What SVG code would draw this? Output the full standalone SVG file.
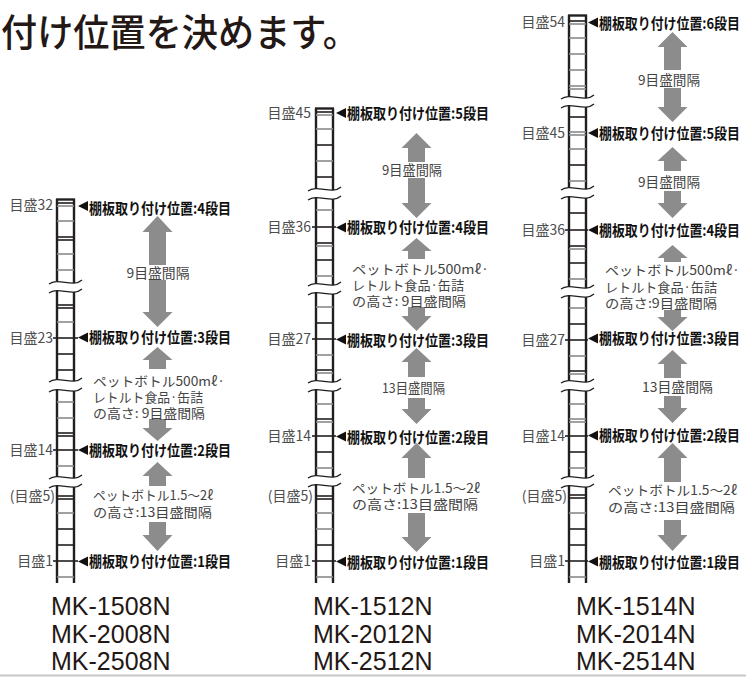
<svg xmlns="http://www.w3.org/2000/svg" width="746" height="677" viewBox="0 0 746 677">
<style>
.rail{stroke:#231f20;stroke-width:2.4;fill:none}
.rd{stroke:#231f20;stroke-width:1.6}
.rg{stroke:#8a8a8a;stroke-width:1.6}
.bf{fill:#fff;stroke:none}
.bw{fill:none;stroke:#231f20;stroke-width:1.3}
.arr{fill:#8c8c8c}
.tri{fill:#111}
.lbl{font-family:'Noto Sans CJK JP','Noto Sans',sans-serif;font-weight:700;font-size:15px;fill:#111}
.sc{font-family:'Noto Sans CJK JP','Noto Sans',sans-serif;font-size:14px;fill:#4d4d4d;text-anchor:end}
.nt{font-family:'Noto Sans CJK JP','Noto Sans',sans-serif;font-size:13px;fill:#444}
.ntc{font-family:'Noto Sans CJK JP','Noto Sans',sans-serif;font-size:13.5px;fill:#444;text-anchor:middle}
.mdl{font-family:'Liberation Sans',Arial,sans-serif;font-size:25px;fill:#231815}
.ttl{font-family:'Noto Sans CJK JP','Noto Sans',sans-serif;font-size:38px;font-weight:500;fill:#231815}
</style>

<g id="title"><text class="ttl" x="1" y="46" textLength="358" lengthAdjust="spacingAndGlyphs">付け位置を決めます。</text></g>

<!-- Ladder 1 -->
<g id="ladder1">
<line class="rail" x1="57" y1="199" x2="57" y2="583"/>
<line class="rail" x1="74" y1="199" x2="74" y2="583"/>
<line class="rail" x1="56" y1="199.5" x2="75" y2="199.5"/>
<line class="rd" x1="57" y1="203" x2="74" y2="203"/><line class="rg" x1="57" y1="206" x2="74" y2="206"/>
<line class="rg" x1="57" y1="221" x2="74" y2="221"/>
<line class="rd" x1="57" y1="237" x2="74" y2="237"/><line class="rd" x1="57" y1="240" x2="74" y2="240"/>
<line class="rg" x1="57" y1="254" x2="74" y2="254"/>
<line class="rg" x1="57" y1="270" x2="74" y2="270"/>
<line class="rd" x1="57" y1="305" x2="74" y2="305"/><line class="rd" x1="57" y1="308" x2="74" y2="308"/>
<line class="rg" x1="57" y1="322" x2="74" y2="322"/>
<line class="rd" x1="53" y1="338" x2="78" y2="338"/>
<line class="rd" x1="57" y1="354" x2="74" y2="354"/>
<line class="rd" x1="57" y1="370" x2="74" y2="370"/>
<line class="rg" x1="57" y1="402" x2="74" y2="402"/>
<line class="rg" x1="57" y1="418" x2="74" y2="418"/>
<line class="rd" x1="57" y1="433" x2="74" y2="433"/><line class="rd" x1="57" y1="436" x2="74" y2="436"/>
<line class="rd" x1="53" y1="450" x2="78" y2="450"/>
<line class="rg" x1="57" y1="466" x2="74" y2="466"/>
<line class="rd" x1="57" y1="496" x2="74" y2="496"/><line class="rd" x1="57" y1="499" x2="74" y2="499"/>
<line class="rg" x1="57" y1="513" x2="74" y2="513"/>
<line class="rd" x1="57" y1="529" x2="74" y2="529"/>
<line class="rd" x1="57" y1="545" x2="74" y2="545"/>
<line class="rd" x1="53" y1="561" x2="78" y2="561"/>
<line class="rg" x1="57" y1="577" x2="74" y2="577"/>
<path class="bf" d="M49,284 C58,277 73,288 82,280 L82,289 C73,297 58,286 49,293 Z"/>
<path class="bw" d="M49,284 C58,277 73,288 82,280 M49,293 C58,286 73,297 82,289"/>
<path class="bf" d="M49,382 C58,375 73,386 82,378 L82,388 C73,396 58,385 49,392 Z"/>
<path class="bw" d="M49,382 C58,375 73,386 82,378 M49,392 C58,385 73,396 82,388"/>
<path class="bf" d="M49,479 C58,472 73,483 82,475 L82,484 C73,492 58,481 49,488 Z"/>
<path class="bw" d="M49,479 C58,472 73,483 82,475 M49,488 C58,481 73,492 82,484"/>
</g>

<!-- Ladder 2 -->
<g id="ladder2">
<line class="rail" x1="316" y1="108" x2="316" y2="583"/>
<line class="rail" x1="333" y1="108" x2="333" y2="583"/>
<line class="rail" x1="315" y1="108.5" x2="334" y2="108.5"/>
<line class="rd" x1="316" y1="112" x2="333" y2="112"/><line class="rg" x1="316" y1="115" x2="333" y2="115"/>
<line class="rg" x1="316" y1="129" x2="333" y2="129"/>
<line class="rd" x1="316" y1="145" x2="333" y2="145"/>
<line class="rg" x1="316" y1="161" x2="333" y2="161"/>
<line class="rd" x1="316" y1="177" x2="333" y2="177"/>
<line class="rg" x1="316" y1="210" x2="333" y2="210"/>
<line class="rd" x1="312" y1="227" x2="336" y2="227"/>
<line class="rd" x1="316" y1="243" x2="333" y2="243"/><line class="rg" x1="316" y1="246" x2="333" y2="246"/>
<line class="rd" x1="316" y1="260" x2="333" y2="260"/>
<line class="rg" x1="316" y1="276" x2="333" y2="276"/>
<line class="rg" x1="316" y1="307" x2="333" y2="307"/>
<line class="rd" x1="316" y1="323" x2="333" y2="323"/>
<line class="rd" x1="312" y1="339" x2="336" y2="339"/>
<line class="rg" x1="316" y1="355" x2="333" y2="355"/>
<line class="rd" x1="316" y1="370" x2="333" y2="370"/><line class="rg" x1="316" y1="373" x2="333" y2="373"/>
<line class="rg" x1="316" y1="404" x2="333" y2="404"/>
<line class="rd" x1="316" y1="419" x2="333" y2="419"/><line class="rg" x1="316" y1="422" x2="333" y2="422"/>
<line class="rd" x1="312" y1="436" x2="336" y2="436"/>
<line class="rd" x1="316" y1="452" x2="333" y2="452"/>
<line class="rg" x1="316" y1="468" x2="333" y2="468"/>
<line class="rd" x1="316" y1="496" x2="333" y2="496"/><line class="rd" x1="316" y1="499" x2="333" y2="499"/>
<line class="rg" x1="316" y1="513" x2="333" y2="513"/>
<line class="rg" x1="316" y1="529" x2="333" y2="529"/>
<line class="rd" x1="316" y1="545" x2="333" y2="545"/>
<line class="rd" x1="312" y1="561" x2="336" y2="561"/>
<line class="rg" x1="316" y1="577" x2="333" y2="577"/>
<path class="bf" d="M308,191 C317,184 332,195 341,187 L341,196 C332,204 317,193 308,200 Z"/>
<path class="bw" d="M308,191 C317,184 332,195 341,187 M308,200 C317,193 332,204 341,196"/>
<path class="bf" d="M308,286 C317,279 332,290 341,282 L341,291 C332,299 317,288 308,295 Z"/>
<path class="bw" d="M308,286 C317,279 332,290 341,282 M308,295 C317,288 332,299 341,291"/>
<path class="bf" d="M308,383 C317,376 332,387 341,379 L341,388 C332,396 317,385 308,392 Z"/>
<path class="bw" d="M308,383 C317,376 332,387 341,379 M308,392 C317,385 332,396 341,388"/>
<path class="bf" d="M308,478 C317,471 332,482 341,474 L341,483 C332,491 317,480 308,487 Z"/>
<path class="bw" d="M308,478 C317,471 332,482 341,474 M308,487 C317,480 332,491 341,483"/>
</g>

<!-- Ladder 3 -->
<g id="ladder3">
<line class="rail" x1="569" y1="15" x2="569" y2="583"/>
<line class="rail" x1="586" y1="15" x2="586" y2="583"/>
<line class="rail" x1="568" y1="15.5" x2="587" y2="15.5"/>
<line class="rd" x1="569" y1="21" x2="586" y2="21"/><line class="rg" x1="569" y1="24" x2="586" y2="24"/>
<line class="rg" x1="569" y1="38" x2="586" y2="38"/>
<line class="rg" x1="569" y1="54" x2="586" y2="54"/>
<line class="rg" x1="569" y1="70" x2="586" y2="70"/>
<line class="rg" x1="569" y1="86" x2="586" y2="86"/><line class="rg" x1="569" y1="89" x2="586" y2="89"/>
<line class="rd" x1="569" y1="117" x2="586" y2="117"/>
<line class="rg" x1="569" y1="132" x2="586" y2="132"/><line class="rg" x1="569" y1="135" x2="586" y2="135"/>
<line class="rg" x1="569" y1="149" x2="586" y2="149"/>
<line class="rd" x1="569" y1="165" x2="586" y2="165"/>
<line class="rg" x1="569" y1="181" x2="586" y2="181"/>
<line class="rd" x1="569" y1="213" x2="586" y2="213"/>
<line class="rd" x1="565" y1="230" x2="588" y2="230"/>
<line class="rd" x1="569" y1="246" x2="586" y2="246"/><line class="rg" x1="569" y1="249" x2="586" y2="249"/>
<line class="rd" x1="569" y1="263" x2="586" y2="263"/>
<line class="rg" x1="569" y1="279" x2="586" y2="279"/>
<line class="rg" x1="569" y1="308" x2="586" y2="308"/>
<line class="rd" x1="569" y1="324" x2="586" y2="324"/>
<line class="rd" x1="565" y1="340" x2="588" y2="340"/>
<line class="rg" x1="569" y1="356" x2="586" y2="356"/>
<line class="rd" x1="569" y1="371" x2="586" y2="371"/><line class="rg" x1="569" y1="374" x2="586" y2="374"/>
<line class="rg" x1="569" y1="404" x2="586" y2="404"/>
<line class="rg" x1="569" y1="419" x2="586" y2="419"/><line class="rg" x1="569" y1="422" x2="586" y2="422"/>
<line class="rd" x1="565" y1="436" x2="588" y2="436"/>
<line class="rd" x1="569" y1="452" x2="586" y2="452"/>
<line class="rg" x1="569" y1="468" x2="586" y2="468"/>
<line class="rd" x1="569" y1="495" x2="586" y2="495"/><line class="rd" x1="569" y1="498" x2="586" y2="498"/>
<line class="rg" x1="569" y1="513" x2="586" y2="513"/>
<line class="rd" x1="569" y1="529" x2="586" y2="529"/>
<line class="rd" x1="569" y1="545" x2="586" y2="545"/>
<line class="rd" x1="565" y1="561" x2="588" y2="561"/>
<line class="rg" x1="569" y1="577" x2="586" y2="577"/>
<path class="bf" d="M561,99 C570,92 585,103 594,95 L594,104 C585,112 570,101 561,108 Z"/>
<path class="bw" d="M561,99 C570,92 585,103 594,95 M561,108 C570,101 585,112 594,104"/>
<path class="bf" d="M561,190 C570,183 585,194 594,186 L594,195 C585,203 570,192 561,199 Z"/>
<path class="bw" d="M561,190 C570,183 585,194 594,186 M561,199 C570,192 585,203 594,195"/>
<path class="bf" d="M561,289 C570,282 585,293 594,285 L594,294 C585,302 570,291 561,298 Z"/>
<path class="bw" d="M561,289 C570,282 585,293 594,285 M561,298 C570,291 585,302 594,294"/>
<path class="bf" d="M561,383 C570,376 585,387 594,379 L594,388 C585,396 570,385 561,392 Z"/>
<path class="bw" d="M561,383 C570,376 585,387 594,379 M561,392 C570,385 585,396 594,388"/>
<path class="bf" d="M561,479 C570,472 585,483 594,475 L594,484 C585,492 570,481 561,488 Z"/>
<path class="bw" d="M561,479 C570,472 585,483 594,475 M561,488 C570,481 585,492 594,484"/>
</g>

<!-- Scale labels -->
<g id="scales1">
<text class="sc" x="53" y="210">目盛32</text>
<text class="sc" x="53" y="343">目盛23</text>
<text class="sc" x="53" y="455">目盛14</text>
<text class="sc" x="55" y="501">(目盛5)</text>
<text class="sc" x="53" y="566">目盛1</text>
</g>
<g id="scales2">
<text class="sc" x="311" y="118">目盛45</text>
<text class="sc" x="311" y="232">目盛36</text>
<text class="sc" x="311" y="344">目盛27</text>
<text class="sc" x="311" y="441">目盛14</text>
<text class="sc" x="313" y="501">(目盛5)</text>
<text class="sc" x="311" y="566">目盛1</text>
</g>
<g id="scales3">
<text class="sc" x="565" y="27">目盛54</text>
<text class="sc" x="565" y="138">目盛45</text>
<text class="sc" x="565" y="235">目盛36</text>
<text class="sc" x="565" y="345">目盛27</text>
<text class="sc" x="565" y="441">目盛14</text>
<text class="sc" x="567" y="501">(目盛5)</text>
<text class="sc" x="565" y="566">目盛1</text>
</g>

<!-- Shelf labels col 1 -->
<g id="c1-s4"><polygon class="tri" points="78,206 88,201 88,211"/><text class="lbl" x="89" y="213.5" textLength="142" lengthAdjust="spacingAndGlyphs">棚板取り付け位置:4段目</text></g>
<g id="c1-s3"><polygon class="tri" points="78,337.5 88,332.5 88,342.5"/><text class="lbl" x="89" y="343" textLength="142" lengthAdjust="spacingAndGlyphs">棚板取り付け位置:3段目</text></g>
<g id="c1-s2"><polygon class="tri" points="78,450 88,445 88,455"/><text class="lbl" x="89" y="455.5" textLength="142" lengthAdjust="spacingAndGlyphs">棚板取り付け位置:2段目</text></g>
<g id="c1-s1"><polygon class="tri" points="78,561.5 88,556.5 88,566.5"/><text class="lbl" x="89" y="567" textLength="142" lengthAdjust="spacingAndGlyphs">棚板取り付け位置:1段目</text></g>

<!-- Shelf labels col 2 -->
<g id="c2-s5"><polygon class="tri" points="336,113 346,108 346,118"/><text class="lbl" x="347" y="118.5" textLength="142" lengthAdjust="spacingAndGlyphs">棚板取り付け位置:5段目</text></g>
<g id="c2-s4"><polygon class="tri" points="336,227.5 346,222.5 346,232.5"/><text class="lbl" x="347" y="233" textLength="142" lengthAdjust="spacingAndGlyphs">棚板取り付け位置:4段目</text></g>
<g id="c2-s3"><polygon class="tri" points="336,339.5 346,334.5 346,344.5"/><text class="lbl" x="347" y="345.5" textLength="142" lengthAdjust="spacingAndGlyphs">棚板取り付け位置:3段目</text></g>
<g id="c2-s2"><polygon class="tri" points="336,436.5 346,431.5 346,441.5"/><text class="lbl" x="347" y="442.5" textLength="142" lengthAdjust="spacingAndGlyphs">棚板取り付け位置:2段目</text></g>
<g id="c2-s1"><polygon class="tri" points="336,561.5 346,556.5 346,566.5"/><text class="lbl" x="347" y="567.5" textLength="142" lengthAdjust="spacingAndGlyphs">棚板取り付け位置:1段目</text></g>

<!-- Shelf labels col 3 (horizontally condensed) -->
<g id="c3-s6"><polygon class="tri" points="588,22.5 598,17.5 598,27.5"/><text class="lbl" transform="translate(599 28.5) scale(0.87 1)" x="0" y="0" textLength="162" lengthAdjust="spacingAndGlyphs">棚板取り付け位置:6段目</text></g>
<g id="c3-s5"><polygon class="tri" points="588,133 598,128 598,138"/><text class="lbl" transform="translate(599 138.5) scale(0.87 1)" x="0" y="0" textLength="162" lengthAdjust="spacingAndGlyphs">棚板取り付け位置:5段目</text></g>
<g id="c3-s4"><polygon class="tri" points="588,230 598,225 598,235"/><text class="lbl" transform="translate(599 235.5) scale(0.87 1)" x="0" y="0" textLength="162" lengthAdjust="spacingAndGlyphs">棚板取り付け位置:4段目</text></g>
<g id="c3-s3"><polygon class="tri" points="588,338.5 598,333.5 598,343.5"/><text class="lbl" transform="translate(599 343.5) scale(0.87 1)" x="0" y="0" textLength="162" lengthAdjust="spacingAndGlyphs">棚板取り付け位置:3段目</text></g>
<g id="c3-s2"><polygon class="tri" points="588,435.5 598,430.5 598,440.5"/><text class="lbl" transform="translate(599 440.5) scale(0.87 1)" x="0" y="0" textLength="162" lengthAdjust="spacingAndGlyphs">棚板取り付け位置:2段目</text></g>
<g id="c3-s1"><polygon class="tri" points="588,561.5 598,556.5 598,566.5"/><text class="lbl" transform="translate(599 567.5) scale(0.87 1)" x="0" y="0" textLength="162" lengthAdjust="spacingAndGlyphs">棚板取り付け位置:1段目</text></g>

<!-- Connectors: gray spacing arrows -->
<g id="connectors">
<path class="arr" d="M157.5,216 L172.5,232 L166,232 L166,265 L149,265 L149,232 L142.5,232 Z"/>
<path class="arr" d="M149,280 L166,280 L166,312 L172.5,312 L157.5,327 L142.5,312 L149,312 Z"/>
<path class="arr" d="M157.5,347 L172.5,360 L166,360 L166,369 L149,369 L149,360 L142.5,360 Z"/>
<path class="arr" d="M149,419 L166,419 L166,428 L172.5,428 L157.5,441 L142.5,428 L149,428 Z"/>
<path class="arr" d="M157.5,462 L172.5,476 L166,476 L166,486 L149,486 L149,476 L142.5,476 Z"/>
<path class="arr" d="M149,522 L166,522 L166,535 L172.5,535 L157.5,551 L142.5,535 L149,535 Z"/>

<path class="arr" d="M416.5,133 L431.5,148 L425,148 L425,162 L408,162 L408,148 L401.5,148 Z"/>
<path class="arr" d="M408,178 L425,178 L425,203 L431.5,203 L416.5,218 L401.5,203 L408,203 Z"/>
<path class="arr" d="M416.5,238 L431.5,251 L425,251 L425,259 L408,259 L408,251 L401.5,251 Z"/>
<path class="arr" d="M408,307 L425,307 L425,316 L431.5,316 L416.5,331 L401.5,316 L408,316 Z"/>
<path class="arr" d="M416.5,348 L431.5,362 L425,362 L425,377 L408,377 L408,362 L401.5,362 Z"/>
<path class="arr" d="M408,398 L425,398 L425,409 L431.5,409 L416.5,424 L401.5,409 L408,409 Z"/>
<path class="arr" d="M416.5,443 L431.5,458 L425,458 L425,478 L408,478 L408,458 L401.5,458 Z"/>
<path class="arr" d="M408,513 L425,513 L425,537 L431.5,537 L416.5,552 L401.5,537 L408,537 Z"/>

<path class="arr" d="M672.5,32 L687.5,47 L681,47 L681,70 L664,70 L664,47 L657.5,47 Z"/>
<path class="arr" d="M664,88 L681,88 L681,107 L687.5,107 L672.5,122 L657.5,107 L664,107 Z"/>
<path class="arr" d="M672.5,147 L687.5,161 L681,161 L681,171 L664,171 L664,161 L657.5,161 Z"/>
<path class="arr" d="M664,191 L681,191 L681,203 L687.5,203 L672.5,218 L657.5,203 L664,203 Z"/>
<path class="arr" d="M672.5,245 L687.5,258 L681,258 L681,262 L664,262 L664,258 L657.5,258 Z"/>
<path class="arr" d="M664,310 L681,310 L681,317 L687.5,317 L672.5,331 L657.5,317 L664,317 Z"/>
<path class="arr" d="M672.5,350 L687.5,364 L681,364 L681,378 L664,378 L664,364 L657.5,364 Z"/>
<path class="arr" d="M664,396 L681,396 L681,408 L687.5,408 L672.5,423 L657.5,408 L664,408 Z"/>
<path class="arr" d="M672.5,443 L687.5,458 L681,458 L681,482 L664,482 L664,458 L657.5,458 Z"/>
<path class="arr" d="M664,520 L681,520 L681,535 L687.5,535 L672.5,551 L657.5,535 L664,535 Z"/>
</g>

<!-- Notes col 1 -->
<g id="c1-notes">
<text class="ntc" x="158" y="278" textLength="63" lengthAdjust="spacingAndGlyphs">9目盛間隔</text>
<text class="nt"><tspan x="93" y="386" textLength="132" lengthAdjust="spacingAndGlyphs">ペットボトル500mℓ·</tspan><tspan x="93" y="401.5" textLength="110" lengthAdjust="spacingAndGlyphs">レトルト食品·缶詰</tspan><tspan x="93" y="417.5" textLength="112" lengthAdjust="spacingAndGlyphs">の高さ: 9目盛間隔</tspan></text>
<text class="nt"><tspan x="93" y="500" textLength="120" lengthAdjust="spacingAndGlyphs">ペットボトル1.5～2ℓ</tspan><tspan x="93" y="517" textLength="119" lengthAdjust="spacingAndGlyphs">の高さ:13目盛間隔</tspan></text>
</g>

<!-- Notes col 2 -->
<g id="c2-notes">
<text class="ntc" x="412" y="175" textLength="60" lengthAdjust="spacingAndGlyphs">9目盛間隔</text>
<text class="nt"><tspan x="352" y="274" textLength="137" lengthAdjust="spacingAndGlyphs">ペットボトル500mℓ·</tspan><tspan x="352" y="290" textLength="112" lengthAdjust="spacingAndGlyphs">レトルト食品·缶詰</tspan><tspan x="352" y="305.5" textLength="114" lengthAdjust="spacingAndGlyphs">の高さ: 9目盛間隔</tspan></text>
<text class="ntc" x="413.5" y="393" textLength="63" lengthAdjust="spacingAndGlyphs">13目盛間隔</text>
<text class="nt"><tspan x="352" y="493" textLength="128" lengthAdjust="spacingAndGlyphs">ペットボトル1.5～2ℓ</tspan><tspan x="352" y="508.5" textLength="126" lengthAdjust="spacingAndGlyphs">の高さ:13目盛間隔</tspan></text>
</g>

<!-- Notes col 3 -->
<g id="c3-notes">
<text class="ntc" x="669" y="85" textLength="62" lengthAdjust="spacingAndGlyphs">9目盛間隔</text>
<text class="ntc" x="669" y="187" textLength="62" lengthAdjust="spacingAndGlyphs">9目盛間隔</text>
<text class="nt"><tspan x="605" y="275" textLength="135" lengthAdjust="spacingAndGlyphs">ペットボトル500mℓ·</tspan><tspan x="605" y="291.5" textLength="112" lengthAdjust="spacingAndGlyphs">レトルト食品·缶詰</tspan><tspan x="605" y="307.5" textLength="112" lengthAdjust="spacingAndGlyphs">の高さ:9目盛間隔</tspan></text>
<text class="ntc" x="677.5" y="392" textLength="71" lengthAdjust="spacingAndGlyphs">13目盛間隔</text>
<text class="nt"><tspan x="608" y="495" textLength="129" lengthAdjust="spacingAndGlyphs">ペットボトル1.5～2ℓ</tspan><tspan x="608" y="512" textLength="127" lengthAdjust="spacingAndGlyphs">の高さ:13目盛間隔</tspan></text>
</g>

<!-- Models -->
<g id="models1">
<text class="mdl" x="51" y="615">MK-1508N</text>
<text class="mdl" x="51" y="643">MK-2008N</text>
<text class="mdl" x="51" y="670">MK-2508N</text>
</g>
<g id="models2">
<text class="mdl" x="313" y="615">MK-1512N</text>
<text class="mdl" x="313" y="643">MK-2012N</text>
<text class="mdl" x="313" y="670">MK-2512N</text>
</g>
<g id="models3">
<text class="mdl" x="576" y="615">MK-1514N</text>
<text class="mdl" x="576" y="643">MK-2014N</text>
<text class="mdl" x="576" y="670">MK-2514N</text>
</g>

<line x1="0" y1="675.5" x2="746" y2="675.5" stroke="#c8c8c8" stroke-width="2"/>
</svg>
